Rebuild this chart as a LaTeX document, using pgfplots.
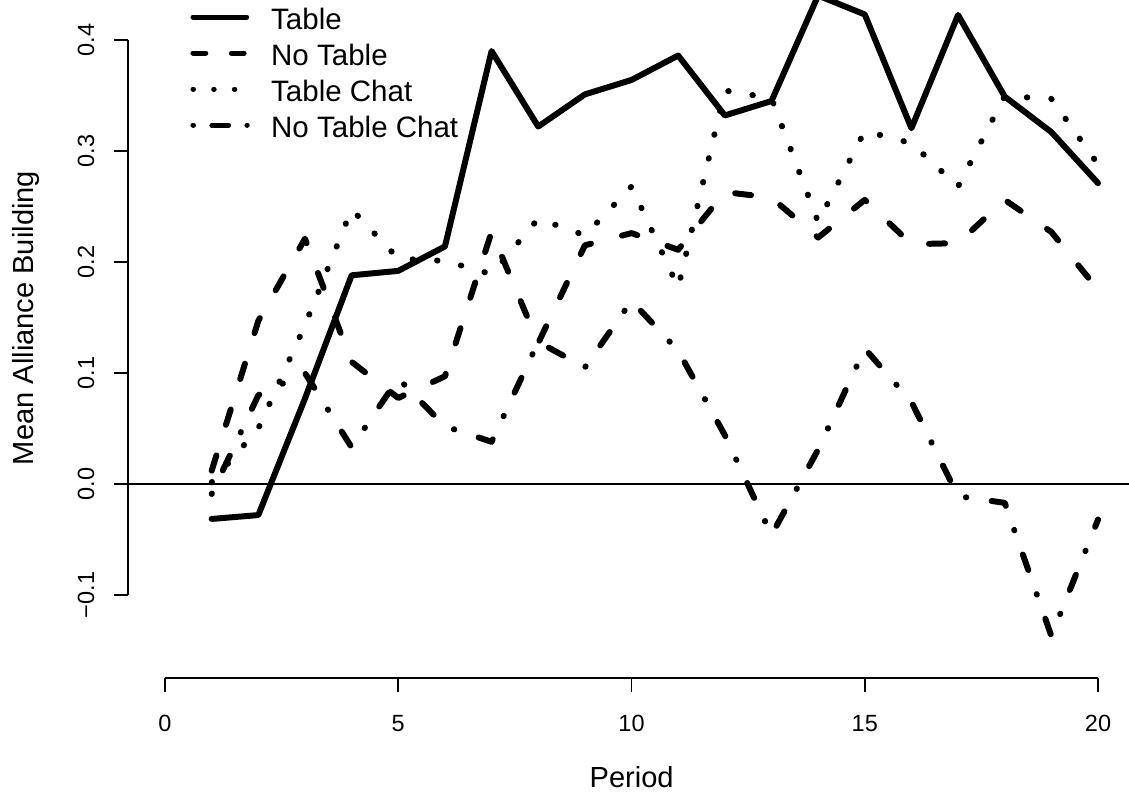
\documentclass[border=0pt]{standalone}
\usepackage{fontspec}
\setmainfont{Liberation Sans}
\usepackage{pgfplots}
\pgfplotsset{compat=1.18}

\pgfplotstableread{
p   tab     notab   tchat   ntchat
1   -0.0315 0.012   0.0015  -0.009
2   -0.028  0.147   0.050   0.080
3   0.077   0.221   0.143   0.100
4   0.188   0.110   0.2475  0.033
5   0.192   0.0775  0.203   0.095
6   0.214   0.097   0.201   0.052
7   0.390   0.227   0.189   0.038
8   0.322   0.127   0.239   0.128
9   0.351   0.215   0.224   0.105
10  0.364   0.226   0.268   0.165
11  0.386   0.211   0.177   0.120
12  0.332   0.263   0.3545  0.044
13  0.345   0.258   0.3475  -0.046
14  0.440   0.222   0.236   0.031
15  0.423   0.256   0.318   0.122
16  0.3205  0.216   0.307   0.074
17  0.4225  0.217   0.268   -0.011
18  0.349   0.256   0.3495  -0.017
19  0.317   0.227   0.347   -0.137
20  0.271   0.175   0.288   -0.032
}\datatable

\begin{document}
\begin{tikzpicture}
\begin{axis}[
  scale only axis,
  width=447.78pt, height=303.20pt,
  xmin=-0.8, xmax=20.664,
  ymin=-0.17477, ymax=0.43604,
  axis x line*=bottom, axis y line*=left,
  axis line style={draw=none},
  xtick={0,5,10,15,20},
  xticklabels={0,5,10,15,20},
  ytick={-0.1,0,0.1,0.2,0.3,0.4},
  yticklabels={−0.1,0.0,0.1,0.2,0.3,0.4},
  /pgf/number format/assume math mode=true,
  tick align=outside,
  major tick length=6.26pt,
  tick style={black, line width=0.75pt},
  xticklabel style={font=\fontsize{10.5}{12}\selectfont, anchor=base, yshift=-17.75pt},
  yticklabel shift=8.81pt,
  yticklabel style={font=\fontsize{10.5}{12}\selectfont, rotate=90, anchor=base},
  xlabel={Period},
  xlabel style={at={(axis description cs:0.50326,-0.16224)}, anchor=base, font=\fontsize{13}{15}\selectfont},
  ylabel={Mean Alliance Building},
  ylabel style={at={(axis description cs:-0.0940,0.531)}, anchor=base, rotate=0, font=\fontsize{13}{15}\selectfont},
  legend style={at={(axis description cs:0.0627,0.9861)}, anchor=north west, draw=none, fill=none,
    inner sep=0pt, outer sep=0pt, row sep=0pt, column sep=9.6pt,
    font=\fontsize{13.2}{15}\selectfont,
    nodes={inner sep=0pt, text height=8.94pt, text depth=7.16pt}},
  legend cell align=left,
  every axis plot/.append style={line cap=round, line join=round},
]
\addplot[black, line width=2.68pt,
  legend image code/.code={\draw[black, line width=2.24pt, line cap=round] (0pt,4.65pt) -- (24pt,4.65pt);}]
  table[x=p, y=tab] {\datatable};
\addlegendentry{Table}
\addplot[black, line width=2.68pt, dash pattern=on 7.16pt off 14.31pt,
  legend image code/.code={\draw[black, line width=2.24pt, line cap=round, dash pattern=on 5.72pt off 11.45pt] (0pt,4.65pt) -- (24pt,4.65pt);}]
  table[x=p, y=notab] {\datatable};
\addlegendentry{No Table}
\addplot[black, line width=2.68pt, dash pattern=on 0.22pt off 10.73pt,
  legend image code/.code={\draw[black, line width=2.24pt, line cap=round, dash pattern=on 0.22pt off 9.03pt] (0pt,4.65pt) -- (24pt,4.65pt);}]
  table[x=p, y=tchat] {\datatable};
\addlegendentry{Table Chat}
\addplot[black, line width=2.68pt, dash pattern=on 0.22pt off 11.43pt on 7.33pt off 11.43pt,
  legend image code/.code={\draw[black, line width=2.24pt, line cap=round, dash pattern=on 0.22pt off 8.23pt on 7.47pt off 8.23pt] (0pt,4.65pt) -- (24.25pt,4.65pt);}]
  table[x=p, y=ntchat] {\datatable};
\addlegendentry{No Table Chat}
\addplot[black, line width=0.75pt, forget plot] coordinates {(-0.8,0) (20.664,0)};
\coordinate (BL) at ([xshift=-57.11pt, yshift=-53.22pt]rel axis cs:0,0);
\coordinate (TR) at (rel axis cs:1,1);
\coordinate (X0) at (axis cs:0,-0.17477);
\coordinate (X20) at (axis cs:20,-0.17477);
\coordinate (Ym) at (axis cs:-0.8,-0.1);
\coordinate (Yp) at (axis cs:-0.8,0.4);
\end{axis}
\draw[black, line width=0.75pt] (X0) -- (X20);
\draw[black, line width=0.75pt] (Ym) -- (Yp);
\pgfresetboundingbox
\path[use as bounding box] (BL) rectangle (TR);
\end{tikzpicture}
\end{document}
